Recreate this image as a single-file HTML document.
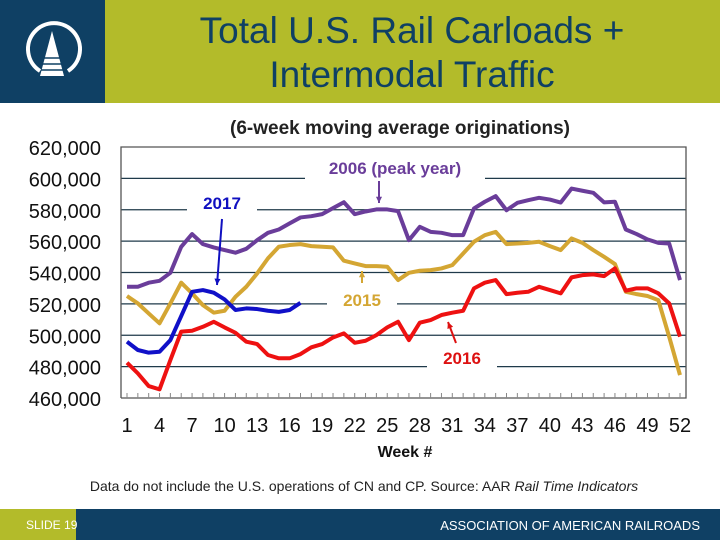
<!DOCTYPE html>
<html><head><meta charset="utf-8"><style>
body{margin:0;width:720px;height:540px;overflow:hidden;background:#fff;font-family:"Liberation Sans",Arial,sans-serif}
</style></head><body>
<svg width="720" height="540" xmlns="http://www.w3.org/2000/svg">
<rect x="0" y="0" width="105" height="103" fill="#0f4064"/>
<g fill="none" stroke="#fff">
<path d="M40,71 A26,26 0 1 1 68,71" stroke-width="4"/>
<path d="M52,31 L40,76 L64,76 Z" fill="#fff" stroke="none"/>
<line x1="44" y1="58" x2="60" y2="58" stroke="#0f4064" stroke-width="1.5"/>
<line x1="42" y1="64" x2="62" y2="64" stroke="#0f4064" stroke-width="1.5"/>
<line x1="41" y1="70" x2="63" y2="70" stroke="#0f4064" stroke-width="1.5"/>
</g>
<rect x="105" y="0" width="615" height="103" fill="#b3bb2a"/>
<text x="412" y="43" text-anchor="middle" font-size="37" fill="#0f4064">Total U.S. Rail Carloads +</text>
<text x="412" y="87" text-anchor="middle" font-size="37" fill="#0f4064">Intermodal Traffic</text>
<text x="400" y="134" text-anchor="middle" font-size="19" font-weight="bold" fill="#222">(6-week moving average originations)</text>
<g id="plot"></g>
<text x="405" y="457" text-anchor="middle" font-size="16" font-weight="bold" fill="#111">Week #</text>
<text x="364" y="491" text-anchor="middle" font-size="14" fill="#222">Data do not include the U.S. operations of CN and CP.   Source: AAR <tspan font-style="italic">Rail Time Indicators</tspan></text>
<rect x="0" y="509" width="76" height="31" fill="#b3bb2a"/>
<rect x="76" y="509" width="644" height="31" fill="#0f4064"/>
<text x="26" y="529" font-size="12" fill="#fff">SLIDE 19</text>
<text x="700" y="530" text-anchor="end" font-size="13" fill="#fff">ASSOCIATION OF AMERICAN RAILROADS</text>
</svg>
<script>
const yTicks=[460,480,500,520,540,560,580,600,620];
const xTickLabels=[1,4,7,10,13,16,19,22,25,28,31,34,37,40,43,46,49,52];
const s2006=[530.9,530.9,533.5,534.7,539.8,556.4,564.5,558.1,556,554.3,552.6,555.1,560.6,565.3,567.4,571.3,575.1,575.9,577.2,581,584.8,577.2,578.9,580.2,580.2,579.1,560.6,569.1,565.9,565.3,563.8,563.8,580.8,585.1,588.7,579.7,584.4,586.1,587.6,586.5,584.6,593.5,592.1,590.8,584.7,585.1,567.4,564.5,561.1,558.9,558.5,535.2];
const s2015=[525,520.3,513.9,507.6,520.3,533.5,526.7,519.2,514.4,515.6,524.5,530.9,539.4,549,556.4,557.5,558.1,556.8,556.4,556,547.5,545.8,544.1,544.1,543.7,535.2,539.8,541.1,541.5,542.6,544.7,552.1,559.6,563.8,565.9,558.1,558.5,558.9,559.6,556.8,554.3,561.7,558.9,554.3,550,545.4,527.7,526.2,525,522.4,499.1,474.6];
const s2016=[482.5,475.7,467.6,465.5,484.2,502.3,502.9,505.4,508.6,505,501.6,495.9,494.4,487.4,485.3,485.3,488,492.3,494.4,498.6,501.2,495.2,496.5,500.1,505,508.6,496.9,508,509.7,512.9,514.4,515.6,529.9,533.5,535.2,526.2,527.1,527.7,530.9,528.8,526.7,536.9,538.3,538.8,537.7,542.6,528.4,529.9,529.9,526.7,520.3,499.1];
const s2017=[495.9,490.6,488.9,489.5,496.9,512.2,527.7,528.8,527.1,522.8,516.1,517.1,516.7,515.6,514.9,516.1,520.7];
const NS='http://www.w3.org/2000/svg';
const g=document.getElementById('plot');
const L=121,R=686,T=147,B=398;
const X=w=>127+(w-1)*(680-127)/51;
const Y=v=>B-(v-460)*(B-T)/160;
function mk(t,a){const e=document.createElementNS(NS,t);for(const k in a)e.setAttribute(k,a[k]);g.appendChild(e);return e;}
yTicks.forEach(v=>{
 if(v>460&&v<620){const l=mk('line',{x1:L,x2:R,y1:Y(v),y2:Y(v),stroke:'#1f3a4a','stroke-width':1.3});
 
 }
 const t=mk('text',{x:101,y:Y(v)+8,'text-anchor':'end','font-size':20,fill:'#111'});
 t.textContent=v.toLocaleString('en-US')+',000';
 
 
});
let f=mk('path',{d:`M${L},${B}V${T}H${R}V${B}H${L}`,fill:'none',stroke:'#555','stroke-width':1.3});


for(let w=1;w<=52;w++){const l=mk('line',{x1:X(w),x2:X(w),y1:B,y2:B-5,stroke:'#888'});
 
 }
xTickLabels.forEach(w=>{const t=mk('text',{x:X(w),y:432,'text-anchor':'middle','font-size':20,fill:'#111'});t.textContent=w;
 
 });
function label(x,y,w,txt,col,name){const r=mk('rect',{x:x-w/2,y:y-17,width:w,height:22,fill:'#fff'});
 
 
 const t=mk('text',{x:x,y:y,'text-anchor':'middle','font-size':17,'font-weight':'bold',fill:col});t.textContent=txt;
 
 }
label(395,174,180,'2006 (peak year)','#6a3d9a','label-2006');
label(222,209,70,'2017','#1010c0','label-2017');
label(362,306,70,'2015','#d4a633','label-2015');
label(462,364,70,'2016','#dd1111','label-2016');
function series(d,col,name){const p=mk('polyline',{points:d.map((v,i)=>X(i+1)+','+Y(v)).join(' '),fill:'none',stroke:col,'stroke-width':4,'stroke-linejoin':'round'});
 
 }
series(s2006,'#6a3d9a','line-2006');
series(s2015,'#d4a633','line-2015');
series(s2016,'#ee1111','line-2016');
series(s2017,'#1010c8','line-2017');
function arrow(x1,y1,x2,y2,col,name){const a=mk('path',{d:`M${x1},${y1}L${x2},${y2}`,stroke:col,'stroke-width':2,fill:'none'});
 
 
 const ang=Math.atan2(y2-y1,x2-x1),h=7;
 const hd=mk('path',{d:`M${x2},${y2}L${x2-h*Math.cos(ang-0.45)},${y2-h*Math.sin(ang-0.45)}L${x2-h*Math.cos(ang+0.45)},${y2-h*Math.sin(ang+0.45)}Z`,fill:col});
 
 }
arrow(379,181,379,203,'#6a3d9a','arrow-2006');
arrow(222,219,217,285,'#1010c0','arrow-2017');
arrow(362,283,362,271,'#d4a633','arrow-2015');
arrow(456,343,448,322,'#dd1111','arrow-2016');
</script>
</body></html>
